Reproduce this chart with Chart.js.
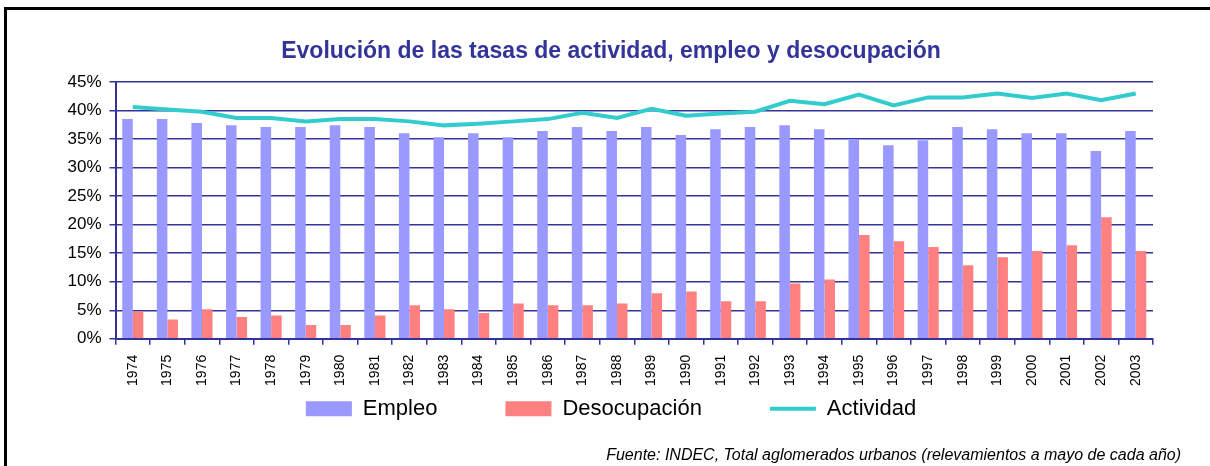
<!DOCTYPE html>
<html lang="es">
<head>
<meta charset="utf-8">
<title>Evolución de las tasas de actividad, empleo y desocupación</title>
<script src="https://cdn.jsdelivr.net/npm/chart.js@4/dist/chart.umd.min.js"></script>
<style>
    html, body { margin: 0; padding: 0; background: #ffffff; }
    #wrap { position: relative; width: 1210px; height: 466px; overflow: hidden; }
    #frame {
        position: absolute; left: 4px; top: 7px; width: 1260px; height: 520px;
        border-top: 3px solid #000; border-left: 3px solid #000;
        pointer-events: none;
    }
</style>
</head>
<body>
<div id="wrap">
    <canvas id="tasasChart" width="1210" height="466"></canvas>
    <div id="frame"></div>
</div>
<script>
/**
 * Tasas de actividad, empleo y desocupación (INDEC, mayo de cada año)
 * Values, in percent
 */
const YEARS = ['1974', '1975', '1976', '1977', '1978', '1979', '1980', '1981', '1982', '1983',
    '1984', '1985', '1986', '1987', '1988', '1989', '1990', '1991', '1992', '1993',
    '1994', '1995', '1996', '1997', '1998', '1999', '2000', '2001', '2002', '2003'];

const EMPLEO = [38.5, 38.5, 37.8, 37.4, 37.1, 37.1, 37.4, 37.1, 36.0, 35.3,
    36.0, 35.3, 36.4, 37.1, 36.4, 37.1, 35.7, 36.7, 37.1, 37.4,
    36.7, 35.0, 33.9, 34.8, 37.1, 36.7, 36.0, 36.0, 32.9, 36.4];

const DESOCUPACION = [4.8, 3.4, 5.2, 3.8, 4.1, 2.4, 2.4, 4.1, 5.9, 5.2,
    4.5, 6.2, 5.9, 5.9, 6.2, 8.0, 8.3, 6.6, 6.6, 9.7,
    10.4, 18.2, 17.1, 16.1, 12.9, 14.3, 15.4, 16.4, 21.3, 15.4];

const ACTIVIDAD = [40.6, 40.2, 39.8, 38.7, 38.7, 38.1, 38.5, 38.5, 38.1, 37.4,
    37.7, 38.1, 38.5, 39.6, 38.7, 40.3, 39.1, 39.5, 39.8, 41.7,
    41.1, 42.8, 40.9, 42.3, 42.3, 43.0, 42.2, 43.0, 41.8, 43.0];

const Y_MIN = 0;
const Y_MAX = 45;
const Y_STEP = 5;

const TITLE = 'Evolución de las tasas de actividad, empleo y desocupación';
const SOURCE = 'Fuente: INDEC, Total aglomerados urbanos (relevamientos a mayo de cada año)';

const NAVY = '#333399';
const FONT = '"Liberation Sans", Arial, Helvetica, sans-serif';

// legend padding is also the gap between items, so the box top is lifted after layout
const LEGEND_PADDING = 68;
const LEGEND_LIFT = 61;

/**
 * Legend: rectangles for the bars, a short line for Actividad
 */
function buildLegendLabels(chart) {
    const items = Chart.defaults.plugins.legend.labels.generateLabels(chart);
    items.forEach(item => {
        const ds = chart.data.datasets[item.datasetIndex];
        if (ds.type === 'line') {
            item.pointStyle = 'line';
            item.lineWidth = 4;
            item.strokeStyle = ds.borderColor;
        } else {
            item.pointStyle = 'rect';
            item.lineWidth = 0;
            item.fillStyle = ds.backgroundColor;
        }
    });
    return items;
}

const liftLegend = {
    id: 'liftLegend',
    afterLayout(chart) {
        if (!chart.legend) return;
        // only the top moves: the legend clips to its own box
        chart.legend.top -= LEGEND_LIFT;
    }
};

function drawChart() {
    const ctx = document.getElementById('tasasChart');

    return new Chart(ctx, {
        type: 'bar',
        data: {
            labels: YEARS,
            datasets: [
                {
                    label: 'Empleo',
                    data: EMPLEO,
                    backgroundColor: '#9999FF',
                    borderWidth: 0,
                    categoryPercentage: 0.61,
                    barPercentage: 1.0
                },
                {
                    label: 'Desocupación',
                    data: DESOCUPACION,
                    backgroundColor: '#FF8080',
                    borderWidth: 0,
                    categoryPercentage: 0.61,
                    barPercentage: 1.0
                },
                {
                    type: 'line',
                    label: 'Actividad',
                    data: ACTIVIDAD,
                    borderColor: '#33CCCC',
                    backgroundColor: '#33CCCC',
                    borderWidth: 4,
                    pointRadius: 0,
                    tension: 0,
                    fill: false
                }
            ]
        },
        plugins: [liftLegend],
        options: {
            responsive: false,
            animation: false,
            layout: { padding: { left: 41, right: 29, top: 0, bottom: 0 } },
            plugins: {
                title: {
                    display: true,
                    text: TITLE,
                    color: NAVY,
                    font: { family: FONT, size: 23, weight: 'bold' },
                    padding: { top: 38, bottom: 16.4 }
                },
                subtitle: {
                    display: true,
                    text: SOURCE,
                    position: 'bottom',
                    align: 'end',
                    color: '#000000',
                    font: { family: FONT, size: 16, style: 'italic' },
                    padding: { top: 15, bottom: 1 }
                },
                legend: {
                    position: 'bottom',
                    maxHeight: 40,
                    labels: {
                        color: '#000000',
                        font: { family: FONT, size: 22 },
                        usePointStyle: true,
                        pointStyleWidth: 46,
                        boxHeight: 15,
                        padding: LEGEND_PADDING,
                        generateLabels: buildLegendLabels
                    }
                },
                tooltip: { enabled: false }
            },
            scales: {
                x: {
                    offset: true,
                    grid: {
                        offset: true,
                        drawOnChartArea: false,
                        drawTicks: true,
                        tickLength: 6,
                        color: NAVY,
                        lineWidth: 1.5
                    },
                    border: { display: true, color: NAVY, width: 2 },
                    ticks: {
                        color: '#000000',
                        font: { family: FONT, size: 14 },
                        minRotation: 90,
                        maxRotation: 90,
                        autoSkip: false,
                        padding: 10
                    },
                    afterFit(scale) { scale.height = 52; }
                },
                y: {
                    min: Y_MIN,
                    max: Y_MAX,
                    grid: {
                        color: NAVY,
                        lineWidth: 1.5,
                        drawTicks: true,
                        tickLength: 6
                    },
                    border: { display: true, color: NAVY, width: 2 },
                    ticks: {
                        stepSize: Y_STEP,
                        color: '#000000',
                        font: { family: FONT, size: 17 },
                        padding: 8,
                        callback: value => value + '%'
                    },
                    afterFit(scale) { scale.width = 74.5; }
                },
                // empty axis on the right, only to hold the plot's right edge
                yRight: {
                    position: 'right',
                    display: true,
                    min: 0,
                    max: 1,
                    grid: { display: false, drawTicks: false },
                    border: { display: false },
                    ticks: { display: false },
                    afterFit(scale) { scale.width = 28; }
                }
            }
        }
    });
}

drawChart();
</script>
</body>
</html>
